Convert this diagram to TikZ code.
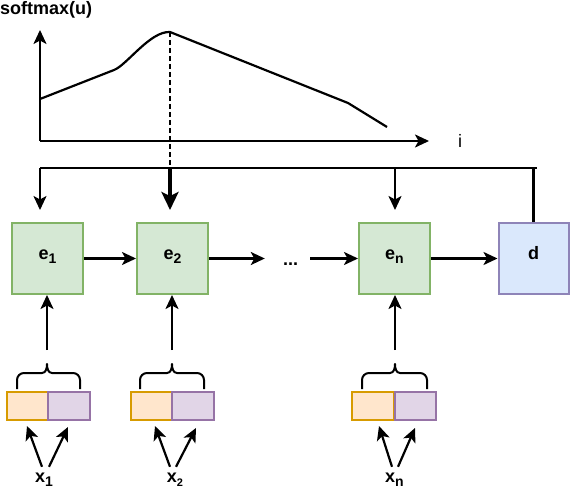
\documentclass[tikz,border=0pt]{standalone}
\usepackage{fontspec}
\setmainfont{Liberation Sans}
\usetikzlibrary{arrows.meta}
\definecolor{gfill}{HTML}{D5E8D4}
\definecolor{gline}{HTML}{82B366}
\definecolor{ofill}{HTML}{FFE6CC}
\definecolor{oline}{HTML}{D79B00}
\definecolor{pfill}{HTML}{E1D5E7}
\definecolor{pline}{HTML}{9673A6}
\definecolor{bfill}{HTML}{DAE8FC}
\definecolor{bline}{HTML}{8E84B8}
\newcommand\lowsub[2][14]{\raisebox{-4pt}{\fontsize{#1}{#1}\selectfont #2}}
\newcommand\mybrace[3]{\draw[braceline] (#1,389) -- (#1,380) to[out=90,in=180] (#1+7,373) -- (#2-5,373) to[out=0,in=-90] (#2,364) to[out=-90,in=180] (#2+5,373) -- (#3-7,373) to[out=0,in=90] (#3,380) -- (#3,389);}
\begin{document}
\begin{tikzpicture}[x=1pt,y=-1pt,
  plain/.style={line width=2.2pt},
  conn/.style={line width=2.2pt,-{Stealth[length=14pt,width=13pt,inset=3.5pt]}},
  thickconn/.style={line width=4pt,-{Stealth[length=18pt,width=17pt,inset=4pt]}},
  dashline/.style={line width=1.8pt,dash pattern=on 5pt off 3pt},
  braceline/.style={line width=2pt,line join=round},
  boxfont/.style={font=\fontsize{18}{20}\selectfont\bfseries},
  ebox/.style={boxfont,draw=gline,fill=gfill,line width=2pt,minimum width=71pt,minimum height=71pt,inner sep=0pt,text height=8pt,text depth=6pt},
  dbox/.style={ebox,draw=bline,fill=bfill,minimum width=70pt},
  obox/.style={draw=oline,fill=ofill,line width=2pt,minimum width=41.5pt,minimum height=28pt,inner sep=0pt},
  pbox/.style={obox,draw=pline,fill=pfill},
  xlab/.style={boxfont,inner sep=0pt,text height=10pt,text depth=6pt,anchor=base},
  txt/.style={boxfont,inner sep=0pt}]
\fill[white] (0,0) rectangle (570,492);
\useasboundingbox (0,0) rectangle (570,492);

% chart
\node[txt,anchor=west] (sm) at (0,9.4) {softmax(u)};
\node[inner sep=0pt,font=\fontsize{18}{20}\selectfont] (ilab) at (460,141) {i};
\coordinate (O) at (40,141);
\coordinate (Ytop) at (40,30);
\coordinate (Xend) at (429,141);
\coordinate (peak) at (170,32);
\draw[conn] (O) -- (Ytop);
\draw[conn] (O) -- (Xend);
\draw[plain,line join=round] (40,99) -- (114,70) .. controls (127,65) and (150,31) .. (peak) -- (348,103) -- (387,127);

% bus
\coordinate (busL) at (40,168);
\coordinate (busR) at (537,168);
\coordinate (t1) at (40,210);
\coordinate (t2) at (170,210);
\coordinate (tn) at (395,210);

% encoder boxes
\node[ebox] (e1) at (47.5,258.5) {e\lowsub{1}};
\node[ebox] (e2) at (172.5,258.5) {e\lowsub{2}};
\node[ebox] (en) at (394.5,258.5) {e\lowsub{n}};
\node[dbox] (d) at (533.5,258.5) {d};
\node[txt,anchor=base] (dots) at (290.5,265.5) {...};

\draw[dashline] (peak) -- (peak |- busL);
\draw[plain] (busL) -- (busR);
\draw[conn] (busL) -- (t1);
\draw[thickconn] (t2 |- busL) -- (t2);
\draw[conn] (tn |- busL) -- (tn);
\draw[plain] (d.north) -- (d.north |- busL);

\draw[conn] (e1) -- (e2);
\draw[conn,shorten >=18pt] (e2.east) -- (e2.east -| dots.west);
\draw[conn,shorten <=12pt] (en.west -| dots.east) -- (en.west);
\draw[conn] (en) -- (d);

% inputs
\node[obox] (o1) at (27.5,405.5) {};
\node[pbox] (p1) at (69,405.5) {};
\node[obox] (o2) at (151.5,406) {};
\node[pbox] (p2) at (193,406) {};
\node[obox] (o3) at (373,405.5) {};
\node[pbox] (p3) at (415.5,405.5) {};

\mybrace{17}{47}{80}
\mybrace{140}{172}{204}
\mybrace{362}{395}{427}

\coordinate (v1) at (47,350);
\coordinate (v2) at (172,350);
\coordinate (v3) at (395,350);
\draw[conn] (v1) -- (v1 |- e1.south);
\draw[conn] (v2) -- (v2 |- e2.south);
\draw[conn] (v3) -- (v3 |- en.south);

\node[xlab] (x1) at (44,482) {x\lowsub[14]{1}};
\node[xlab] (x2) at (175,482) {x\lowsub[11]{2}};
\node[xlab] (xn) at (394.5,482) {x\lowsub[14]{n}};

\draw[conn] ([xshift=-2pt,yshift=5pt]x1.north) -- ([xshift=-0.5pt,yshift=-5.5pt]o1.south);
\draw[conn] ([xshift=5pt,yshift=5pt]x1.north) -- ([xshift=-1pt,yshift=-6.5pt]p1.south);
\draw[conn] ([xshift=-5pt,yshift=5pt]x2.north) -- ([xshift=3.5pt,yshift=-5pt]o2.south);
\draw[conn] ([xshift=1pt,yshift=5pt]x2.north) -- ([xshift=3pt,yshift=-7pt]p2.south);
\draw[conn] ([xshift=-2.5pt,yshift=5pt]xn.north) -- ([xshift=6pt,yshift=-5.5pt]o3.south);
\draw[conn] ([xshift=3.5pt,yshift=5pt]xn.north) -- ([xshift=-0.5pt,yshift=-7.5pt]p3.south);
\end{tikzpicture}
\end{document}
